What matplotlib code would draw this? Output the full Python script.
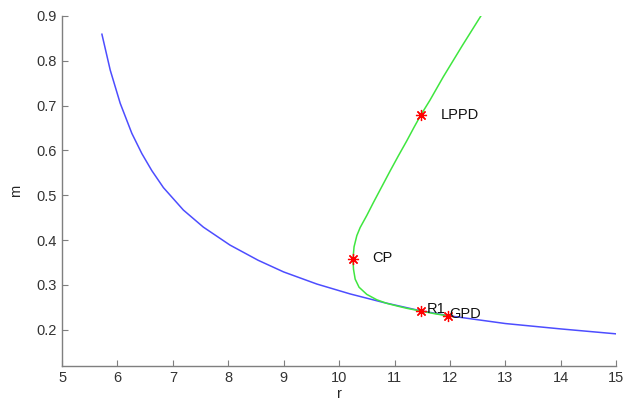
import matplotlib.pyplot as plt

plt.rcParams['font.family'] = ['Liberation Sans', 'DejaVu Sans']

# blue curve (r, m)
r_blue = [5.72, 5.87, 6.05, 6.26, 6.44, 6.62, 6.83, 7.19, 7.55, 8.03, 8.54,
          9.0, 9.6, 10.2, 10.8, 11.45, 12.0, 13.0, 14.0, 15.0]
m_blue = [0.859, 0.779, 0.705, 0.638, 0.593, 0.555, 0.517, 0.467, 0.429, 0.389,
          0.355, 0.329, 0.302, 0.280, 0.261, 0.243, 0.231, 0.214, 0.202, 0.191]

# green curve (r, m)
r_green = [11.97, 11.72, 11.47, 11.22, 11.05, 10.86, 10.68, 10.50, 10.36, 10.29,
           10.26, 10.25, 10.27, 10.32, 10.38, 10.50, 10.62, 10.77, 10.92, 11.07,
           11.22, 11.35, 11.48, 11.64, 11.88, 12.22, 12.56]
m_green = [0.231, 0.236, 0.242, 0.248, 0.253, 0.259, 0.267, 0.279, 0.295, 0.313,
           0.335, 0.357, 0.385, 0.410, 0.428, 0.455, 0.484, 0.519, 0.554, 0.588,
           0.621, 0.651, 0.680, 0.712, 0.764, 0.833, 0.900]

# special points
pt_names = ['LPPD', 'CP', 'R1', 'GPD']
pt_r = [11.48, 10.25, 11.47, 11.97]
pt_m = [0.680, 0.357, 0.242, 0.231]
lbl_r = [11.84, 10.59, 11.59, 11.99]
lbl_m = [0.680, 0.360, 0.247, 0.236]

fig = plt.figure(figsize=(6.29, 4.04), dpi=100)
ax = fig.add_axes([0.0986, 0.0948, 0.881, 0.866])

ax.plot(r_blue, m_blue, color='#4d4dff', lw=1.1)
ax.plot(r_green, m_green, color='#3fe63f', lw=1.1)
ax.plot(pt_r, pt_m, linestyle='none', marker=(8, 2, 0), color='red',
        markersize=8, markeredgewidth=0.9)
for name, x, y in zip(pt_names, lbl_r, lbl_m):
    ax.text(x, y, name, fontsize=10.5, va='center', ha='left', color='#111111')

ax.set_xlim(5, 15)
ax.set_ylim(0.12, 0.9)
ax.set_xticks(range(5, 16))
ax.set_yticks([0.2, 0.3, 0.4, 0.5, 0.6, 0.7, 0.8, 0.9])
ax.set_yticklabels(['0.2', '0.3', '0.4', '0.5', '0.6', '0.7', '0.8', '0.9'])
ax.set_xlabel('r', fontsize=10.5, color='#262626', labelpad=2)
ax.set_ylabel('m', fontsize=10.5, color='#262626', labelpad=10)

for s in ['top', 'right']:
    ax.spines[s].set_visible(False)
for s in ['left', 'bottom']:
    ax.spines[s].set_color('#7f7f7f')
    ax.spines[s].set_linewidth(1.0)
ax.tick_params(direction='in', length=4, color='#7f7f7f', labelcolor='#333333',
               labelsize=10.5)

fig.savefig('out.png', dpi=100)
